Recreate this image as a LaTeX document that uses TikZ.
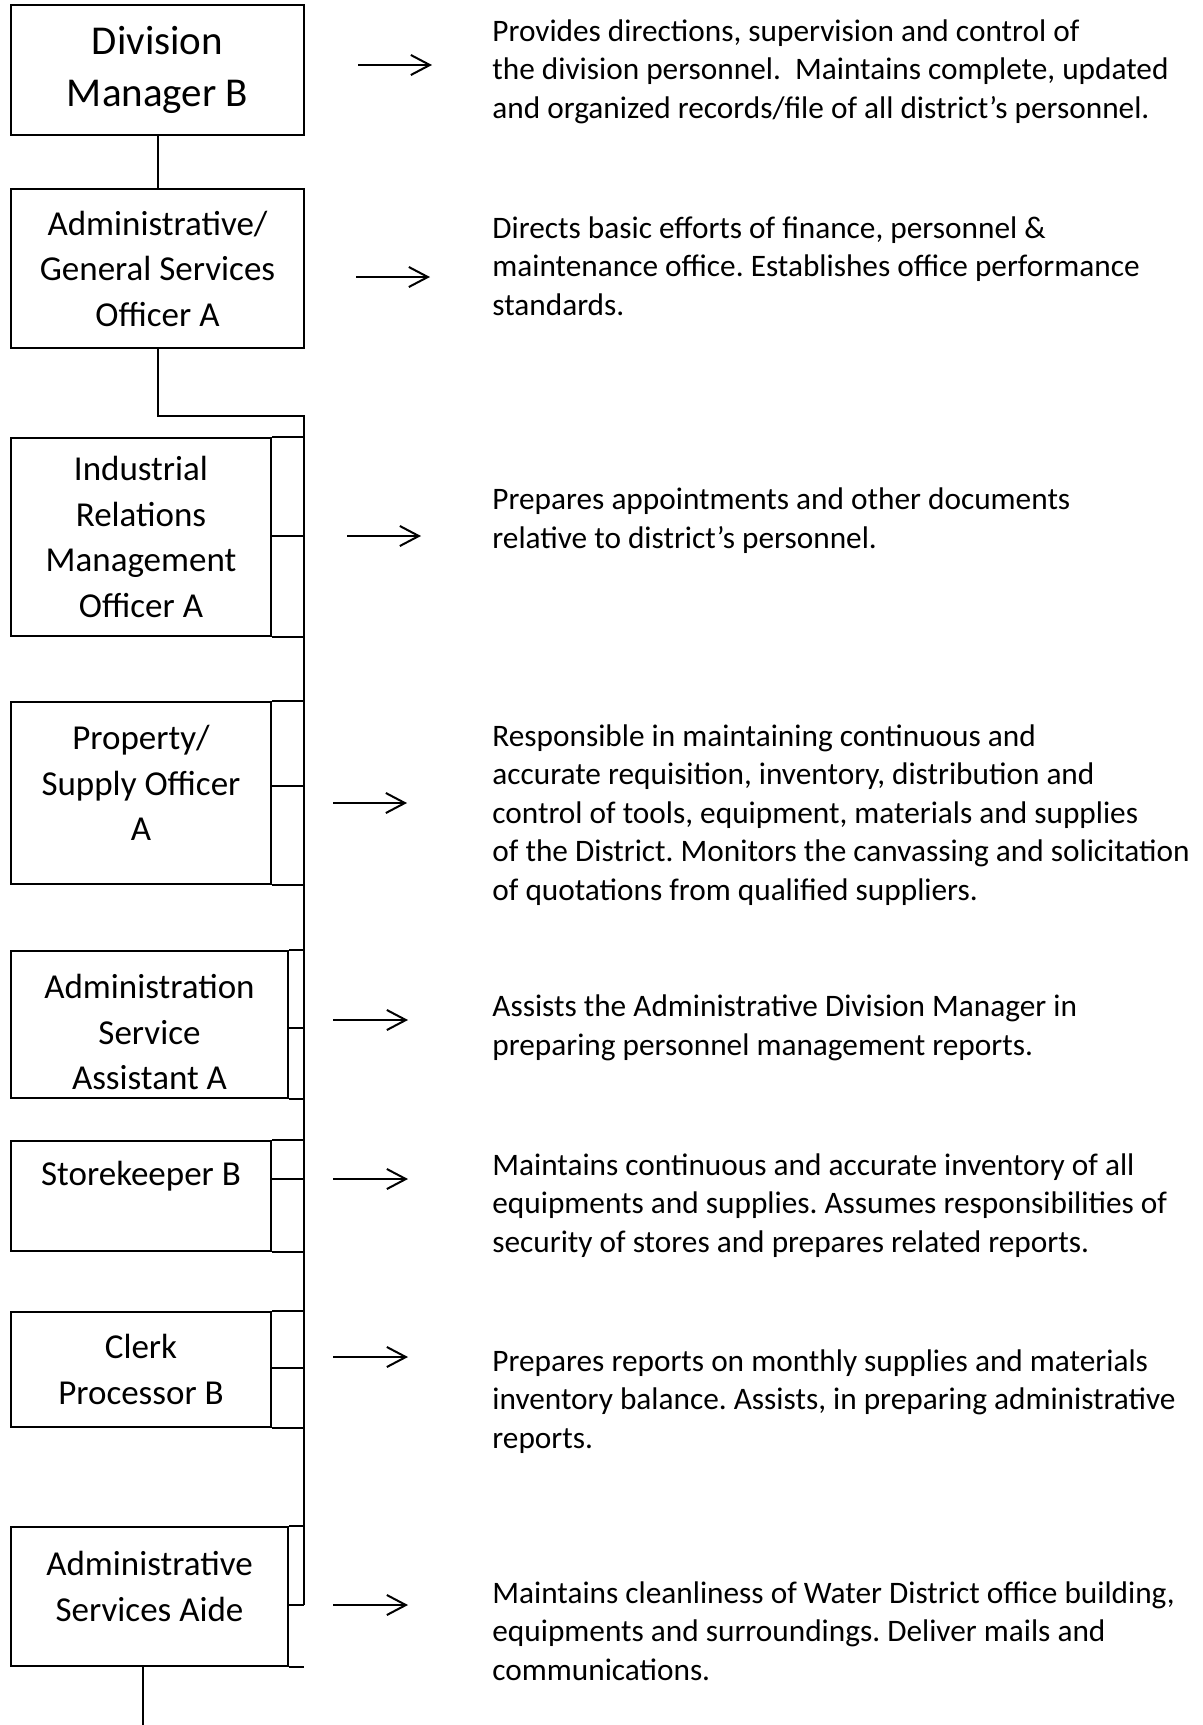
\documentclass[tikz,border=0pt]{standalone}
\usepackage{fontspec}
\setmainfont{Carlito}
\usetikzlibrary{arrows.meta}
\usetikzlibrary{positioning}
\frenchspacing
\tikzstyle{post}=[draw,line width=1pt,align=center,inner sep=0pt,font=\fontsize{17.5pt}{22.75pt}\selectfont]
\tikzstyle{link}=[draw,line width=1pt]
\tikzstyle{pointer}=[draw,line width=1pt,-{Straight Barb[length=9.5pt,width=10pt]}]
\tikzstyle{duty}=[anchor=base west,align=left,inner sep=0pt,font=\fontsize{15.65pt}{19.25pt}\selectfont]

\begin{document}
\begin{tikzpicture}[x=0.5pt,y=-0.5pt]
  \useasboundingbox (0,0) rectangle (1203,1725);

  % posts
  \node[post,minimum width=146.5pt,minimum height=65pt,font=\fontsize{20.5pt}{25.85pt}\selectfont] (dm) at (157.5,70) {Division\\Manager B};
  \node[post,minimum width=146.5pt,minimum height=79.5pt] (ags) at (157.5,268.5) {Administrative/\\General Services\\Officer A};
  \node[post,minimum width=130pt,minimum height=99pt] (irm) at (141,537) {Industrial\\Relations\\Management\\Officer A};
  \node[post,minimum width=130pt,minimum height=91pt,text depth=10pt] (pso) at (141,793) {Property/\\Supply Officer\\A};
  \node[post,minimum width=138.5pt,minimum height=73.5pt,text height=65.5pt] (asa) at (149.5,1024.5) {Administration\\Service\\Assistant A};
  \node[post,minimum width=130pt,minimum height=55pt,text depth=22.5pt] (stk) at (141,1196) {Storekeeper B};
  \node[post,minimum width=130pt,minimum height=57.5pt] (clk) at (141,1369.5) {Clerk\\Processor B};
  \node[post,minimum width=138.5pt,minimum height=69.5pt,text depth=10pt] (aide) at (149.5,1596.5) {Administrative\\Services Aide};

  % trunk
  \coordinate (tr) at (304,416);
  \coordinate (bot) at (143,1725);
  \path[link] (dm.south) -- (ags.north);
  \path[link] (ags.south) |- (tr) -- (tr |- 0,1605);
  \path[link] (aide.south -| bot) -- (bot);

  \foreach \post in {irm,pso,asa,stk,clk,aide}
    \path[link] (\post.north east) -- (\post.north east -| tr)
                (\post.south east) -- (\post.south east -| tr);

  \foreach \post/\y in {irm/536, pso/786, asa/1028, stk/1179, clk/1368, aide/1605}
    \path[link] (\post.east |- 0,\y) -- (tr |- 0,\y);

  % arrows
  \foreach \i/\y/\xa/\xb in {1/65/358/432, 2/277/356/430, 3/536/347/421, 4/803/333/407,
                             5/1020/333/408, 6/1179/333/408, 7/1357/333/408, 8/1605/333/408}
  {
    \coordinate (s\i) at (\xa,\y);
    \coordinate (e\i) at (\xb,\y);
    \path[pointer] (s\i) -- (e\i);
  }

  % duties (base = last line)
  \node[duty] (d1) at (492,118) {Provides directions, supervision and control of\\the division personnel.~ Maintains complete, updated\\and organized records/file of all district’s personnel.};
  \node[duty] (d2) at (492,315) {Directs basic efforts of finance, personnel \&\\maintenance office. Establishes office performance\\standards.};
  \node[duty] (d3) at (492,548) {Prepares appointments and other documents\\relative to district’s personnel.};
  \node[duty] (d4) at (492,900) {Responsible in maintaining continuous and\\accurate requisition, inventory, distribution and\\control of tools, equipment, materials and supplies\\of the District. Monitors the canvassing and solicitation\\of quotations from qualified suppliers.};
  \node[duty] (d5) at (492,1055) {Assists the Administrative Division Manager in\\preparing personnel management reports.};
  \node[duty] (d6) at (492,1252) {Maintains continuous and accurate inventory of all\\equipments and supplies. Assumes responsibilities of\\security of stores and prepares related reports.};
  \node[duty] (d7) at (492,1448) {Prepares reports on monthly supplies and materials\\inventory balance. Assists, in preparing administrative\\reports.};
  \node[duty] (d8) at (492,1680) {Maintains cleanliness of Water District office building,\\equipments and surroundings. Deliver mails and\\communications.};
\end{tikzpicture}
\end{document}
